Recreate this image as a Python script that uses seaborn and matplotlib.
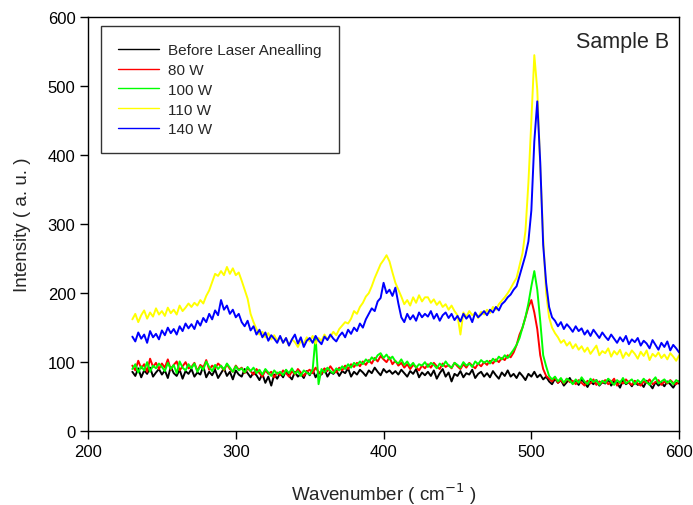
import numpy as np
import pandas as pd
import matplotlib
matplotlib.use("Agg")
import matplotlib.pyplot as plt
import seaborn as sns

wavenumber = np.arange(230, 601, 2)

before = [
    86, 80, 91, 78, 88, 83, 92, 79, 85, 90,
    82, 88, 77, 93, 84, 80, 89, 76, 87, 83,
    90, 79, 85, 82, 94, 78, 86, 81, 89, 77,
    84, 91, 80, 86, 75, 88, 82, 79, 90, 84,
    78, 85, 81, 74, 83, 70, 79, 66, 82, 76,
    84, 78, 88, 80, 75, 86, 79, 83, 77, 87,
    81, 89, 78, 85, 82, 90, 79, 86, 83, 88,
    80, 87, 84, 91, 79, 86, 82, 89, 85, 80,
    88, 84, 92, 86, 81, 90, 85, 88, 83, 87,
    82, 89, 84, 79, 87, 83, 90, 78, 85, 81,
    86, 80, 88, 76, 84, 90, 79, 85, 72, 83,
    80, 87, 78, 84, 82, 89, 77, 83, 86, 79,
    84, 78, 87, 81, 76, 85, 80, 88, 79, 83,
    77, 85, 80, 74, 83, 79, 86, 78, 82, 75,
    79, 72, 68, 76, 70, 74, 66, 71, 77, 69,
    73, 67, 75, 70, 64, 72, 68, 74, 66, 71,
    69, 75, 66, 72, 70, 63, 74, 68, 71, 65,
    72, 67, 70, 64, 73, 68, 62, 71, 66, 70,
    65, 72, 68, 63, 70, 69,
]

w80 = [
    95, 88, 102, 91, 97, 86, 105, 93, 99, 90,
    98, 92, 104, 89, 96, 101, 88, 94, 100, 91,
    93, 99, 87, 96, 92, 103, 89, 95, 91, 98,
    94, 88, 97, 90, 86, 95, 89, 92, 84, 91,
    87, 82, 90, 84, 79, 88, 83, 86, 78, 85,
    81, 88, 84, 79, 87, 82, 90, 85, 80, 86,
    89, 84, 92, 86, 83, 91, 87, 94, 88, 85,
    92, 88, 95, 90, 97, 93, 99, 94, 101, 96,
    103, 98, 106, 101, 109, 104, 100, 107, 97, 102,
    95, 99, 92, 97, 90, 96, 93, 88, 95, 91,
    97, 92, 99, 94, 90, 98, 93, 96, 91, 99,
    94, 90, 97, 92, 99, 95, 91, 98, 94, 100,
    96, 102, 98, 104, 100, 106, 103, 110, 107, 114,
    125, 140, 150, 165, 180, 190, 172, 148, 110, 90,
    80, 76, 72, 78, 70, 74, 69, 76, 71, 73,
    68, 74, 70, 66, 73, 69, 75, 67, 72, 70,
    74, 68, 71, 76, 66, 72, 69, 75, 70, 67,
    73, 69, 66, 72, 70, 75, 68, 71, 74, 67,
    72, 69, 74, 70, 68, 73,
]

w100 = [
    90, 97, 85, 94, 88, 100, 86, 95, 91, 98,
    93, 87, 99, 90, 96, 84, 101, 92, 88, 97,
    91, 98, 86, 94, 89, 101, 93, 87, 96, 90,
    95, 89, 98, 92, 86, 94, 88, 91, 85, 93,
    87, 92, 84, 89, 82, 90, 85, 80, 88, 83,
    86, 81, 89, 84, 91, 83, 87, 80, 88, 85,
    82, 89, 137, 68, 90, 85, 92, 87, 84, 91,
    88, 94, 90, 97, 92, 99, 95, 101, 97, 104,
    100, 107, 103, 110, 113, 106, 111, 104, 108, 101,
    98, 104, 96, 101, 94, 99, 92, 97, 95, 100,
    93, 99, 96, 91, 98, 94, 101, 95, 92, 99,
    96, 92, 100, 95, 98, 93, 101, 97, 103, 99,
    102, 98, 105, 101, 108, 104, 110, 106, 112, 118,
    125, 135, 150, 165, 185, 210, 232, 205, 160, 110,
    94, 80, 75, 79, 72, 77, 70, 76, 73, 68,
    75, 70, 78, 72, 68, 76, 71, 74, 67, 73,
    70, 76, 72, 67, 74, 70, 77, 69, 72, 75,
    68, 74, 70, 76, 71, 67, 73, 78, 69, 72,
    75, 70, 73, 68, 74, 71,
]

w110 = [
    162, 170, 158, 168, 175, 163, 172, 166, 178, 169,
    174, 167, 179, 171, 176, 169, 182, 174, 179, 185,
    180, 186, 182, 190, 185, 196, 204, 216, 228, 225,
    232, 226, 238, 228, 236, 226, 230, 218, 205, 192,
    170, 158, 148, 140, 144, 136, 142, 133, 139, 131,
    137, 128, 135, 124, 133, 129, 122, 131, 127, 136,
    130, 138, 127, 135, 131, 140, 133, 137, 144, 139,
    148, 153, 158, 156, 163, 174, 170, 180, 186, 195,
    200, 210, 222, 232, 242, 248, 255, 246, 230, 215,
    205, 195, 184, 190, 182, 194, 186, 197, 188, 194,
    194, 186, 191, 183, 188, 180, 184, 176, 182, 174,
    168, 140, 172, 166, 174, 168, 171, 164, 173, 169,
    176, 171, 180, 176, 184, 189, 194, 200, 207, 215,
    222, 240, 258, 290, 360, 450, 545, 495, 385, 280,
    200, 165, 150, 142, 136, 128, 132, 124, 129, 120,
    126, 118, 123, 115, 121, 112, 118, 124, 110, 116,
    113, 120, 108, 116, 111, 118, 106, 114, 109, 117,
    112, 105, 115, 109, 117, 103, 112, 108, 114, 106,
    111, 104, 113, 108, 102, 110,
]

w140 = [
    137, 130, 143, 134, 140, 128, 145, 136, 141, 133,
    146, 139, 150, 142, 148, 140, 152, 145, 156, 149,
    155, 148, 160, 153, 164, 158, 170, 162, 175, 168,
    190, 176, 182, 170, 176, 165, 170, 158, 152, 160,
    146, 152, 140, 147, 136, 143, 131, 139, 134, 128,
    138, 128, 135, 124, 133, 140, 127, 136, 122, 131,
    135, 128, 138, 131, 126, 137, 132, 140, 134, 130,
    138, 143, 136, 147, 141, 150, 145, 156, 150, 162,
    170, 178, 174, 188, 193, 215, 200, 205, 196, 208,
    185, 165, 158, 170, 162, 168, 160, 172, 165, 170,
    166, 174, 163, 170, 160, 168, 172, 164, 170, 161,
    167, 159, 170, 163, 168, 158, 172, 165, 169, 174,
    168, 176, 172, 180, 175, 184, 188, 194, 198, 205,
    210, 225, 240, 255, 275, 320, 420, 478, 390, 270,
    215, 180, 165, 160, 152, 158, 148, 155, 150, 144,
    152, 145, 149, 140, 146, 138, 147, 141, 135, 143,
    137, 132, 140, 134, 128, 136, 130, 138, 126, 133,
    129, 135, 124, 131, 127, 120, 132, 125, 118, 128,
    122, 130, 117, 125, 120, 114,
]

series_names = ["Before Laser Anealling", "80 W", "100 W", "110 W", "140 W"]
series_colors = ["#000000", "#FF0000", "#00FF00", "#FFFF00", "#0000FF"]
series_values = [before, w80, w100, w110, w140]

frames = []
for name, vals in zip(series_names, series_values):
    frames.append(pd.DataFrame({"Wavenumber": wavenumber, "Intensity": vals, "Series": name}))
df = pd.concat(frames, ignore_index=True)

sns.set_style("ticks")
plt.rcParams["font.family"] = ["Liberation Sans", "DejaVu Sans"]

fig = plt.figure(figsize=(6.93, 5.06), dpi=100)
ax = fig.add_axes([0.127, 0.146, 0.853, 0.818])

sns.lineplot(data=df, x="Wavenumber", y="Intensity", hue="Series",
             hue_order=series_names, palette=series_colors,
             estimator=None, sort=False, lw=1.4, ax=ax)

ax.set_xlim(200, 600)
ax.set_ylim(0, 600)
ax.set_xticks([200, 300, 400, 500, 600])
ax.set_yticks([0, 100, 200, 300, 400, 500, 600])
ax.tick_params(direction="out", length=5.5, width=1, labelsize=12, colors="black")
ax.tick_params(top=False, right=False)
for sp in ax.spines.values():
    sp.set_visible(True)
    sp.set_linewidth(1.0)
    sp.set_color("black")

ax.set_xlabel("Wavenumber ( cm$^{-1}$ )", fontsize=13.5, labelpad=16)
ax.set_ylabel("Intensity ( a. u. )", fontsize=13.5, labelpad=12)

ax.text(0.983, 0.942, "Sample B", transform=ax.transAxes, ha="right", va="center", fontsize=15.5)

handles, labels = ax.get_legend_handles_labels()
leg = ax.legend(handles, labels, loc="upper left", bbox_to_anchor=(0.022, 0.978),
                borderaxespad=0, fontsize=11, frameon=True, fancybox=False,
                edgecolor="black", handlelength=2.7, handletextpad=0.6,
                labelspacing=0.38, borderpad=1.1)
leg.get_frame().set_linewidth(1.0)
for line in leg.get_lines():
    line.set_linewidth(1.0)

fig.savefig("out.png", dpi=100)
